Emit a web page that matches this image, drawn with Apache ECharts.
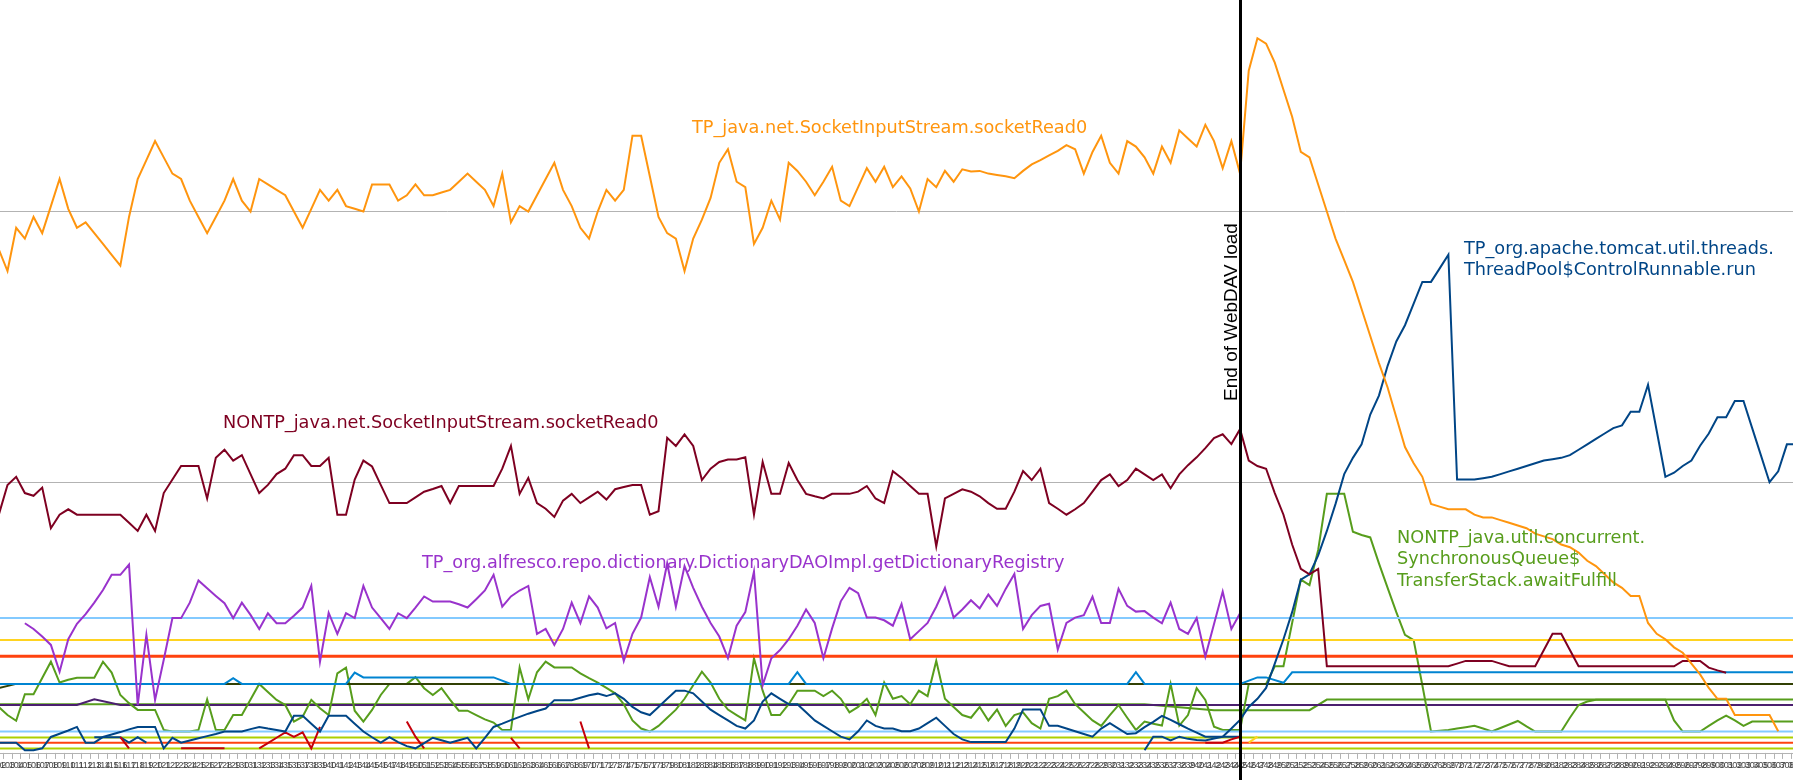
<!DOCTYPE html>
<html><head><meta charset="utf-8">
<script src="https://cdn.jsdelivr.net/npm/echarts@6/dist/echarts.min.js"></script>
<style>html,body{margin:0;padding:0;background:#fff;overflow:hidden}#c{width:1793px;height:780px}</style>
</head><body><div id="c"></div>
<script>
// categories: sample numbers (index 0 = first, partly cut off at left)
const FIRST_LABEL = 102;
const categories = [];
for (let i = 0; i < 208; i++) categories.push(String(FIRST_LABEL + i));
const K0 = -1;
function cat(k) { return categories[k - K0]; }

// per-category series (k = -1 .. 206)
const orange = [186,
178,194,190,198,192,202,212,201,194,196,
192,188,184,180,198,212,219,226,220,214,
212,204,198,192,198,204,212,204,200,212,
210,208,206,200,194,201,208,204,208,202,
201,200,210,210,210,204,206,210,206,206,
207,208,211,214,211,208,202,214,196,202,
200,206,212,218,208,202,194,190,200,208,
204,208,228,228,213,198,192,190,178,190,
197,205,218,223,211,209,188,194,204,197,
218,215,211,206,211,216.5,204,202,209,216,
211,216.5,209,213,208.5,200,212,209,215,211,
215.6,214.8,215,214,213.5,213,212.3,215,217.4,219,
220.7,222.4,224.5,223,214,222,228,218,214,226,
224,220,214,224,218,230,227,224,232,226,
216,226,214,252,264,262,255,245,235,222,
220,210,200,190,182,174,164,154,144,135,
124,113,107,102,92,91,90,90,90,88,
87,87,86,85,84,83,81,80,79,77,
76,74,71,69,66,63,61,58,58,48,
44,42,39,37,33,29,24,20,20,14,
14,14,14,14,8,null,null];

const maroon = [88,
99,102,96,95,98,83,88,90,88,88,
88,88,88,88,85,82,88,82,96,101,
106,106,106,94,109,112,108,110,103,96,
99,103,105,110,110,106,106,109,88,88,
101,108,105.8,99,92.3,92.3,92.3,94.4,96.5,97.5,
98.6,92.3,98.6,98.6,98.6,98.6,98.6,105,113.4,95.7,
101.6,92.3,90.2,87.2,93.2,95.7,92.3,94.4,96.5,93.6,
97.4,98.2,99,99,88,89.3,116.4,113.4,117.7,113.4,
100.8,105,107.5,108.4,108.4,109.2,88,107.5,95.7,95.7,
107.1,100.8,95.7,94.8,94,95.7,95.7,95.7,96.5,98.6,
94,92.3,104.1,101.6,98.6,95.7,95.7,76.3,94,95.7,
97.4,96.5,94.8,92.3,90.2,90.2,96.5,104.1,100.8,105,
92.3,90.2,88,90,92.3,96.5,100.8,102.9,98.6,100.8,
105,102.9,100.8,102.9,97.8,102.9,106.3,109.2,112.6,116.3,
117.7,114.1,119.6,108,106,105,96,88,77,68,
66,68,32,32,32,32,32,32,32,32,
32,32,32,32,32,32,32,33,34,34,
34,34,33,32,32,32,32,38,44,44,
38,32,32,32,32,32,32,32,32,32,
32,32,32,34,34,34,31.5,30.5,29.6,null,
null,null,null,null,null,null,null];

const purple = [null,
null,null,47.9,45.8,43,39.9,30,42,47.7,51.3,
55.5,60.2,65.8,65.8,69.6,17.7,43.6,19.6,34.4,49.8,
49.8,55.5,63.7,60.8,58,55.3,49.8,55.5,51,45.8,
51.6,47.9,47.9,50.7,53.7,61.7,33.7,51.8,44,51.6,
49.8,61.7,53.7,49.8,45.8,51.6,49.8,53.7,57.8,55.9,
55.9,55.9,54.9,53.7,56.8,60,65.8,54,57.8,60,
61.7,44,45.8,39.9,45.8,55.5,47.9,57.8,53.7,46,
48,34,44,50,65,54,70,54,69,61,
54,48,43,35,47,52,67,25,35,38,
42,47,53,48,35,46,56,61,59,50,
50,49,47,55,42,45,48,54,61,50,
53,56.4,53.4,58.5,54.3,60.6,66.1,45.8,50.9,54.3,
55.1,38.2,48,50,50.9,57.7,48,48,60.6,54.3,
52.2,52.4,50,47.9,55.5,45.8,44,49.8,35.6,47.6,
59.6,45.8,51.6,null,null,null,null,null,null,null,
null,null,null,null,null,null,null,null,null,null,
null,null,null,null,null,null,null,null,null,null,
null,null,null,null,null,null,null,null,null,null,
null,null,null,null,null,null,null,null,null,null,
null,null,null,null,null,null,null,null,null,null,
null,null,null,null,null,null,null];

const tomcat = [3.8,
3.8,3.8,1,1,1.7,5.9,7.1,8.3,9.6,3.8,
3.8,5.9,6.8,7.7,8.7,9.6,9.6,9.6,1.7,5.6,
3.8,4.6,5.4,6.2,7,7.9,7.9,7.9,8.8,9.6,
9,8.5,7.9,13.7,13.7,10.8,7.9,13.7,13.7,13.7,
10.8,7.9,5.8,3.8,5.8,4,2.5,1.7,3.6,5.6,
4.7,3.8,4.7,5.6,1.7,5.6,9.6,10.8,12.1,13.3,
14.5,15.5,16.4,19.5,19.5,19.5,20.4,21.3,21.9,21,
22,20,17,15,14,17,20,23,23,22,
19,16,14,12,10,9,12,19,22,20,
18,18,15,12,10,8,6,5,8,12,
10,9,9,8,8,9,11,13,10,7,
5,4,4,4,4,4,9,16,16,16,
10,10,9,8,7,6,9,11,9,7,
7.3,9.5,11.5,13.7,12.2,10.6,9,7.5,6,6,
6,9,12.2,17,20,24,33,42,52,64,
66,73,82,92,103,109,114,125,132,143,
152,158,166,174,174,179,184,101,101,101,
101.5,102,103,104,105,106,107,108,108.5,109,
110,112,114,116,118,120,121,126,126,136,
119,102,103.5,106,108,113.5,118,124,124,130,
130,120,110,100,104,114,114];

const syncQueue = [17,
14,11.9,21.7,21.7,27.7,33.7,26,27,27.8,27.8,
27.8,33.7,29.7,21.4,18.4,15.9,15.9,15.9,8.5,7.9,
7.9,7.9,8.5,19.8,8.5,8.5,14,14,19.7,25.5,
22.5,19.6,17.7,11.6,13.4,19.6,16.5,14,29.4,31.5,
15.6,11.6,15.9,21.4,25.5,25.5,25.5,28,23.9,21.4,
23.9,19.6,15.6,15.6,14,12.4,11.2,8.5,8.5,31.6,
19.8,29.8,33.7,31.6,31.6,31.6,29.4,27.6,26,24,
22,18,12,9,7.9,10,13,16,20,25,
30,26,20,16,14,12,35,23,14,14,
18,23,23,23,21,23,20,15,17,20,
14,26,20,21,18,23,21,34,20,17,
14,13,17,12,16,10,14,15,11,9,
20,21,23,18,15,12,10,14,17.7,13,
8.5,11.6,10.8,10.1,25.5,10.1,14,23.9,19.6,9.7,
8.5,8.5,8.5,25.5,25.5,25.5,32,32,48,64,
62,75,95.7,95.7,95.7,81.7,80.5,79.6,70,61,
52,43.6,41.7,25,7.9,8.2,8.5,9,9.5,10,
9,7.9,9.2,10.5,11.8,9.8,7.9,7.9,7.9,7.9,
13,17.7,19,19.6,19.6,19.6,19.6,19.6,19.6,19.6,
19.6,19.6,12,7.9,7.9,7.9,10,12,13.8,12,
10,11.6,11.6,11.6,11.6,11.6,11.6];

// vertex lists [category index k, value] for the near-flat series
const green2Pts   = [[-1,18],[131,18],[139,15.8],[150,15.8],[152,19.7],[206,19.7]];
const darkPurplePts = [[-1,17.7],[8,17.7],[10,19.8],[13,17.7],[206,17.7]];
const olivePts    = [[-1,24],[1,25.5],[206,25.5]];
const bluePts     = [[-1,25.5],[25,25.5],[26,27.6],[27,25.5],[39,25.5],[40,29.7],[41,27.9],[56,27.9],[58,25.5],
                     [90,25.5],[91,29.8],[92,25.5],[129,25.5],[130,29.8],[131,25.5],[142,25.5],[144,27.9],[145,27.9],
                     [147,25.9],[148,29.8],[206,29.8]];
const lightBlue1Pts = [[-1,49.8],[206,49.8]];
const yellow1Pts    = [[-1,41.7],[206,41.7]];
const redOrange1Pts = [[-1,35.7],[206,35.7]];
const lightBlue2Pts = [[-1,7.9],[206,7.9]];
const lime1Pts      = [[-1,5.7],[206,5.7]];
const redOrange2Pts = [[-1,3.8],[206,3.8]];
const lime2Pts      = [[-1,1.6],[206,1.6]];
const yellow2Pts    = [[143,3.8],[144,6]];
// sparse series: {k: value}
const redVals = {13:5.8,14:1.7,20:1.7,21:1.7,22:1.7,23:1.7,24:1.7,25:1.7,29:1.7,30:3.6,31:5.6,32:7.6,33:5.9,34:7.6,35:1.7,36:9.6,
                 46:11.6,47:6,48:1.7,58:5.6,59:1.7,66:11.6,67:1.7,138:3.8,139:3.8,140:3.8,141:5,142:6};
const darkBlue2Vals = {10:5.8,11:5.8,12:5.8,13:5.8,14:3.8,15:5.8,16:3.8,
                 131:1,132:6,133:6,134:4.6,135:6,136:5.2,137:4.8,138:4.6,139:5.3,140:6,141:6,142:6};

const GRID_VALUES = [100, 200];
const END_OF_LOAD = '245';
const Y_MIN = -10, Y_MAX = 300;

function fromPts(pts) { return pts.map(p => [cat(p[0]), p[1]]); }
function fromSparse(obj) { return categories.map((c, i) => { const k = i + K0; return (k in obj) ? obj[k] : null; }); }

function ls(name, color, data, width, extra) {
  return Object.assign({
    name, type: 'line', data, symbol: 'none', showSymbol: false, silent: true,
    lineStyle: { color, width: width || 2, cap: 'butt', join: 'miter' }, itemStyle: { color },
    z: 2, animation: false
  }, extra || {});
}

const series = [
  ls('grid', '#b3b3b3', [], 1, { markLine: { z: 1, silent: true, symbol: ['none','none'], label: { show: false },
      lineStyle: { color: '#b3b3b3', width: 1, type: 'solid' }, data: GRID_VALUES.map(v => ({ yAxis: v })) } }),
  ls('greenAvg', '#579d1c', fromPts(green2Pts)),
  ls('darkPurple', '#4b1f6f', fromPts(darkPurplePts)),
  ls('NONTP_java.util.concurrent.SynchronousQueue$TransferStack.awaitFulfill', '#579d1c', syncQueue),
  ls('lightBlue2', '#83caff', fromPts(lightBlue2Pts)),
  ls('lime1', '#aecf00', fromPts(lime1Pts)),
  ls('redOrange2', '#ff420e', fromPts(redOrange2Pts)),
  ls('lime2', '#aecf00', fromPts(lime2Pts)),
  ls('olive', '#314004', fromPts(olivePts)),
  ls('blue', '#0084d1', fromPts(bluePts)),
  ls('lightBlue1', '#83caff', fromPts(lightBlue1Pts)),
  ls('yellow1', '#ffd320', fromPts(yellow1Pts)),
  ls('redOrange1', '#ff420e', fromPts(redOrange1Pts), 3),
  ls('darkBlue2', '#004586', fromSparse(darkBlue2Vals)),
  ls('red', '#c5000b', fromSparse(redVals)),
  ls('yellow2', '#ffd320', fromPts(yellow2Pts)),
  ls('TP_org.apache.tomcat.util.threads.ThreadPool$ControlRunnable.run', '#004586', tomcat),
  ls('NONTP_java.net.SocketInputStream.socketRead0', '#7e0021', maroon),
  ls('TP_org.alfresco.repo.dictionary.DictionaryDAOImpl.getDictionaryRegistry', '#9933cc', purple),
  ls('TP_java.net.SocketInputStream.socketRead0', '#ff950e', orange, 2, { markLine: { z: 6, silent: true, symbol: ['none','none'],
      label: { show: false }, lineStyle: { color: '#000', width: 3, type: 'solid' }, data: [{ xAxis: END_OF_LOAD }] } })
];

const F = '"DejaVu Sans", sans-serif';
function txt(x, y, text, color, extra) {
  return Object.assign({ type: 'text', x, y, silent: true, z: 100,
    style: Object.assign({ text, fill: color, font: '17.7px ' + F, align: 'left', verticalAlign: 'middle',
      textAlign: 'left', textVerticalAlign: 'middle', lineHeight: 21.6 }, (extra && extra.style) || {}) },
    extra && extra.rotation ? { rotation: extra.rotation } : {});
}

const H = 780, GRID_TOP = -59.2;
const pxPerUnit = (H - GRID_TOP) / (Y_MAX - Y_MIN);
const chart = echarts.init(document.getElementById('c'), null, { renderer: 'canvas' });
chart.setOption({
  animation: false,
  backgroundColor: '#fff',
  grid: { left: -5.52, right: -6.92, top: GRID_TOP, bottom: 0, containLabel: false, outerBoundsMode: 'none' },
  xAxis: {
    type: 'category', data: categories, boundaryGap: true,
    offset: -(0 - Y_MIN) * pxPerUnit,
    axisLine: { show: true, onZero: false, lineStyle: { color: '#b3b3b3', width: 1 } },
    axisTick: { show: true, interval: 0, length: 6, lineStyle: { color: '#b3b3b3' } },
    axisLabel: { interval: 0, fontSize: 9, fontFamily: 'Liberation Sans', color: '#444', margin: 8, hideOverlap: false },
    splitLine: { show: false }
  },
  yAxis: { type: 'value', min: Y_MIN, max: Y_MAX, show: false, splitLine: { show: false } },
  series,
  graphic: [
    txt(692, 128, 'TP_java.net.SocketInputStream.socketRead0', '#ff950e'),
    txt(1464, 260, 'TP_org.apache.tomcat.util.threads.\nThreadPool$ControlRunnable.run', '#004586'),
    txt(223, 423, 'NONTP_java.net.SocketInputStream.socketRead0', '#7e0021'),
    txt(422, 563, 'TP_org.alfresco.repo.dictionary.DictionaryDAOImpl.getDictionaryRegistry', '#9933cc'),
    txt(1397, 559.5, 'NONTP_java.util.concurrent.\nSynchronousQueue$\nTransferStack.awaitFulfill', '#579d1c'),
    txt(1231.5, 312, 'End of WebDAV load', '#000', { rotation: Math.PI / 2,
      style: { font: '19px "Liberation Sans", sans-serif', align: 'center', textAlign: 'center' } })
  ]
});
</script></body></html>
